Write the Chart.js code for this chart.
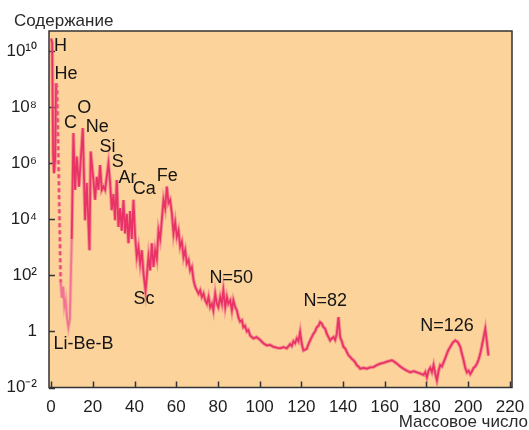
<!DOCTYPE html>
<html>
<head>
<meta charset="utf-8">
<script src="https://cdn.jsdelivr.net/npm/chart.js@4.4.1/dist/chart.umd.min.js"></script>
<style>
html, body { margin: 0; padding: 0; background: #fff; }
#wrap { width: 529px; height: 430px; }
</style>
</head>
<body>
<div id="wrap"><canvas id="chart"></canvas></div>
<script>
// mass number
const massNumber = [
  0.0, 0.5, 1.0, 1.4, 1.9, 2.4, 2.9, 4.6,
  5.2, 5.8, 6.4, 7.0, 7.6, 8.3, 9.0, 9.9,
  10.7, 11.5, 12.3, 13.4, 15.2, 16.3, 17.1, 17.9, 18.4, 19.0,
  20.3, 21.1, 21.9, 22.7, 23.5, 24.3, 25.1, 25.9, 26.7, 27.5,
  28.3, 29.1, 29.9, 30.7, 31.5, 32.3, 33.1, 33.9, 34.7, 35.5,
  36.3, 37.1, 37.9, 38.7, 39.5, 40.3, 41.1, 41.9, 42.7, 43.5,
  44.3, 45.3, 46.7, 47.5, 48.3, 49.1, 49.9, 50.7, 51.5, 52.3,
  53.1, 53.9, 54.7, 55.5, 56.3, 57.1, 57.9, 58.7, 59.5, 60.3,
  61.1, 61.9, 62.7, 63.5, 64.3, 65.1, 65.9, 66.7, 67.5, 68.3,
  69.1, 69.9, 70.7, 71.5, 72.3, 73.1, 73.9, 74.7, 75.5, 76.3,
  77.1, 77.8, 78.7, 79.5, 80.2, 81.1, 81.9, 82.6, 83.5, 84.3,
  85.0, 85.9, 86.7, 87.4, 88.3, 89.1, 89.8, 90.6, 91.5, 92.2,
  93.0, 93.9, 94.6, 95.5, 97.0, 98.5, 100.2, 101.8, 103.5, 105.0,
  106.6, 108.2, 109.8, 111.4, 113.0, 114.6, 115.4, 116.2, 117.0, 117.8,
  118.6, 119.4, 120.2, 121.0, 122.6, 123.4, 124.2, 125.8, 126.6, 127.4,
  128.2, 129.0, 129.8, 130.6, 131.4, 132.2, 133.0, 133.8, 134.6, 135.4,
  136.2, 137.0, 137.8, 138.6, 139.4, 140.2, 141.0, 141.8, 142.6, 143.4,
  144.2, 145.0, 145.8, 146.6, 147.4, 148.2, 149.8, 151.4, 153.0, 154.6,
  156.2, 157.8, 159.4, 161.0, 162.2, 163.4, 164.6, 165.8, 167.4, 169.0,
  170.6, 172.2, 173.8, 175.4, 177.0, 178.6, 179.4, 180.2, 181.0, 181.8,
  182.6, 183.4, 184.2, 185.0, 185.8, 186.6, 187.4, 188.2, 189.0, 189.8,
  190.6, 191.4, 192.6, 193.8, 195.0, 196.2, 197.0, 197.8, 198.6, 199.4,
  200.2, 201.0, 201.8, 202.6, 203.4, 204.2, 205.0, 205.8, 206.6, 207.4,
  208.2, 209.0, 209.7
];

// abundance as a power of ten (10^n)
const logAbundance = [
  10.45, 10.3, 6.3, 5.65, 6.1, 8.85, 8.7, 1.75,
  1.2, 1.6, 0.9, 1.1, 0.5, 0.15, 0.45, 3.3,
  7.08, 5.05, 6.24, 5.17, 7.26, 3.97, 5.3, 3.87, 2.9, 6.42,
  5.4, 4.7, 5.52, 5.05, 5.94, 5.05, 5.17, 5.05, 5.52, 6.0,
  5.3, 4.33, 4.9, 3.97, 5.4, 3.73, 4.4, 3.6, 4.69, 3.5,
  4.2, 3.15, 4.3, 3.3, 4.7, 3.4, 2.66, 3.0, 2.43, 2.9,
  2.07, 1.45, 2.66, 2.18, 3.15, 2.3, 2.9, 2.6, 3.6, 3.3,
  3.97, 4.69, 4.4, 5.17, 4.58, 4.69, 4.22, 3.5, 3.9, 3.38,
  3.6, 3.02, 3.2, 2.66, 2.9, 2.43, 2.55, 2.18, 2.3, 1.83,
  1.6, 1.47, 1.35, 1.47, 1.23, 1.35, 1.11, 0.99, 1.23, 0.87,
  0.99, 0.75, 1.35, 0.99, 0.87, 1.23, 0.99, 1.47, 0.87, 1.23,
  0.99, 1.11, 0.75, 1.11, 0.87, 0.75, 0.51, 0.35, 0.4, 0.15,
  0.2, 0.0, 0.05, -0.15, -0.25, -0.2, -0.3, -0.42, -0.5, -0.48,
  -0.55, -0.58, -0.6, -0.56, -0.6, -0.45, -0.52, -0.35, -0.42, -0.25,
  -0.35, -0.02, -0.45, -0.68, -0.62, -0.45, -0.32, -0.08, 0.0, 0.15,
  0.2, 0.33, 0.28, 0.15, 0.1, -0.08, -0.2, -0.32, -0.25, -0.2,
  -0.3, -0.08, 0.51, -0.2, -0.35, -0.55, -0.6, -0.73, -0.85, -0.91,
  -0.98, -1.03, -1.1, -1.21, -1.25, -1.33, -1.3, -1.33, -1.28, -1.27,
  -1.2, -1.15, -1.12, -1.08, -1.05, -1.03, -1.08, -1.15, -1.25, -1.33,
  -1.4, -1.46, -1.42, -1.46, -1.5, -1.55, -1.45, -1.64, -1.4, -1.3,
  -1.45, -1.2, -1.5, -1.75, -1.4, -1.2, -1.25, -1.1, -0.95, -0.79,
  -0.65, -0.55, -0.4, -0.32, -0.38, -0.55, -0.8, -1.03, -1.3, -1.46,
  -1.4, -1.52, -1.42, -1.3, -1.25, -1.15, -1.0, -0.79, -0.5, -0.2,
  0.1, -0.4, -0.86
];

// the He drop is dashed, the Li-Be-B part is paler
const dashedFrom = 2.4, dashedTo = 4.6, paleTo = 9.9;

const xTicks = [0, 20, 40, 60, 80, 100, 120, 140, 160, 180, 200, 220];
const yTickPowers = [-2, 0, 2, 4, 6, 8, 10];
const yTickLabels = ['10⁻²', '1', '10²', '10⁴', '10⁶', '10⁸', '10¹⁰'];

// element labels: text, mass number, power of ten (left edge, middle)
const labelText = ['H', 'He', 'C', 'O', 'Ne', 'Si', 'S', 'Ar', 'Ca', 'Fe', 'Sc', 'Li-Be-B', 'N=50', 'N=82', 'N=126'];
const labelMass = [1.4, 1.6, 6.2, 12.6, 16.6, 23.2, 29.1, 32.3, 39.2, 50.7, 39.5, 1.1, 75.9, 121.0, 177.0];
const labelPower = [10.19, 9.17, 7.44, 7.97, 7.31, 6.57, 6.03, 5.49, 5.08, 5.56, 1.15, -0.44, 1.89, 1.08, 0.2];

const font = "'Liberation Sans', Arial, Helvetica, sans-serif";
const points = massNumber.map((m, i) => ({x: m, y: Math.pow(10, logAbundance[i])}));

function isDashed(ctx) {
  return ctx.p0.parsed.x >= dashedFrom && ctx.p1.parsed.x <= dashedTo;
}
function isPale(ctx) {
  return ctx.p0.parsed.x >= dashedTo && ctx.p1.parsed.x <= paleTo;
}

const decor = {
  id: 'decor',
  beforeDraw(chart) {
    const {ctx, chartArea: a} = chart;
    ctx.save();
    ctx.fillStyle = '#FCD39B';
    ctx.fillRect(a.left, a.top, a.right - a.left, a.bottom - a.top);
    ctx.restore();
  },
  beforeDatasetsDraw(chart) {
    const {ctx, chartArea: a, scales} = chart;
    ctx.save();
    ctx.strokeStyle = '#333';
    ctx.lineWidth = 1.5;
    ctx.strokeRect(a.left, a.top, a.right - a.left, a.bottom - a.top);
    ctx.beginPath();
    xTicks.forEach(v => {
      const x = Math.round(scales.x.getPixelForValue(v)) + 0.5;
      ctx.moveTo(x, a.bottom);
      ctx.lineTo(x, a.bottom - 6);
    });
    yTickPowers.forEach(p => {
      const y = Math.round(scales.y.getPixelForValue(Math.pow(10, p))) + 0.5;
      ctx.moveTo(a.left, y);
      ctx.lineTo(a.left + 6, y);
    });
    ctx.stroke();
    ctx.restore();
  },
  afterDatasetsDraw(chart) {
    const {ctx, scales} = chart;
    ctx.save();
    ctx.fillStyle = '#151515';
    ctx.font = '18px ' + font;
    ctx.textAlign = 'left';
    ctx.textBaseline = 'middle';
    labelText.forEach((t, i) => {
      ctx.fillText(t, scales.x.getPixelForValue(labelMass[i]), scales.y.getPixelForValue(Math.pow(10, labelPower[i])));
    });
    ctx.restore();
  },
  afterDraw(chart) {
    const {ctx} = chart;
    ctx.save();
    ctx.fillStyle = '#2a2a2a';
    ctx.font = '17px ' + font;
    ctx.textBaseline = 'alphabetic';
    ctx.textAlign = 'left';
    ctx.fillText('Содержание', 14, 26);
    ctx.textAlign = 'right';
    ctx.fillText('Массовое число', 528, 427);
    ctx.restore();
  }
};

const lineBase = {
  data: points,
  pointRadius: 0,
  tension: 0,
  fill: false
};

new Chart(document.getElementById('chart'), {
  type: 'line',
  data: {
    datasets: [
      Object.assign({}, lineBase, {
        label: 'halo',
        borderColor: 'rgba(240, 80, 125, 0.5)',
        borderWidth: 3.6,
        segment: {
          borderDash: ctx => isDashed(ctx) ? [4, 3] : undefined,
          borderColor: ctx => isPale(ctx) ? 'rgba(245, 130, 155, 0.45)' : undefined
        }
      }),
      Object.assign({}, lineBase, {
        label: 'Содержание',
        borderColor: '#E3154F',
        borderWidth: 1.8,
        segment: {
          borderDash: ctx => isDashed(ctx) ? [4, 3] : undefined,
          borderColor: ctx => isDashed(ctx) ? '#EA3A6A' : (isPale(ctx) ? '#EE6A8A' : undefined)
        }
      })
    ]
  },
  options: {
    responsive: true,
    maintainAspectRatio: false,
    animation: false,
    layout: {padding: {left: 0, right: 17, top: 31, bottom: 0}},
    plugins: {legend: {display: false}, tooltip: {enabled: false}},
    scales: {
      x: {
        type: 'linear',
        min: -1,
        max: 221,
        afterBuildTicks: axis => { axis.ticks = xTicks.map(v => ({value: v})); },
        afterFit: axis => { axis.height = 42.5; },
        grid: {display: false},
        border: {display: false},
        ticks: {
          padding: 2,
          color: '#1e1e1e',
          font: {family: font, size: 17}
        }
      },
      y: {
        type: 'logarithmic',
        min: 0.01,
        max: 5.28e10,
        afterBuildTicks: axis => { axis.ticks = yTickPowers.map(p => ({value: Math.pow(10, p)})); },
        afterFit: axis => { axis.width = 49; },
        grid: {display: false},
        border: {display: false},
        ticks: {
          padding: 4,
          color: '#1e1e1e',
          font: {family: font, size: 17},
          callback: function (value) {
            const i = yTickPowers.indexOf(Math.round(Math.log10(value)));
            return i >= 0 ? yTickLabels[i] : '';
          }
        }
      }
    }
  },
  plugins: [decor]
});
</script>
</body>
</html>
